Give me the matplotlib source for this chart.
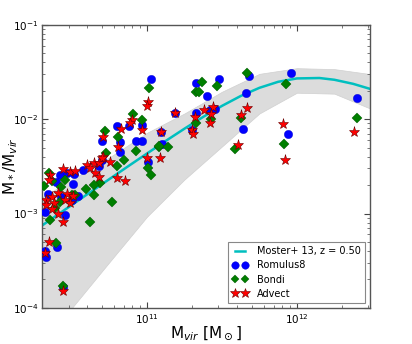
import numpy as np
import matplotlib
matplotlib.use("Agg")
import matplotlib.pyplot as plt
from matplotlib.ticker import LogLocator, NullFormatter

# ---------------- data (log10 values) ----------------
# Moster+13 relation at z = 0.5
curve_logm = [10.3, 10.5, 10.625, 10.75, 10.875, 11.0, 11.125, 11.25, 11.375,
              11.5, 11.625, 11.75, 11.875, 12.0, 12.15, 12.25, 12.375, 12.5]
curve_ratio = [7.45e-4, 1.236e-3, 1.693e-3, 2.318e-3, 3.169e-3, 4.32e-3,
               5.872e-3, 7.92e-3, 0.01056, 0.01381, 0.01758, 0.02147,
               0.02487, 0.02700, 0.02728, 0.02613, 0.02366, 0.02064]

band_logm = [10.3, 10.5, 10.75, 11.0, 11.25, 11.5, 11.75, 12.0, 12.25, 12.5]
band_low_log = [-4.38, -4.0, -3.515, -3.035, -2.64, -2.29, -1.94, -1.72, -1.73, -1.895]
band_high_log = [-2.83, -2.64, -2.405, -2.145, -1.94, -1.71, -1.52, -1.46, -1.47, -1.525]

# Romulus8 (blue circles): log10 Mvir, log10 M*/Mvir
rom_logm = [11.03, 10.88, 10.97, 10.80, 10.70, 10.82, 10.93, 10.97, 10.82, 11.01,
            11.33, 11.48, 11.68, 11.40, 11.66, 11.19, 11.33, 11.42, 11.455, 11.30,
            11.64, 11.095, 11.10, 11.96, 12.40, 11.94, 10.68, 10.42, 10.47, 10.515,
            10.51, 10.34, 10.43, 10.50, 10.32, 10.455, 10.40, 10.33, 10.44, 10.70,
            10.395, 10.54, 10.575, 10.32]
rom_logr = [-1.57, -2.07, -2.06, -2.07, -2.23, -2.24, -2.23, -2.23, -2.35, -2.45,
            -1.62, -1.57, -1.54, -1.76, -1.72, -1.93, -1.94, -1.90, -1.89, -2.11,
            -2.10, -2.14, -2.26, -1.51, -1.78, -2.16, -2.50, -2.59, -2.57, -2.58,
            -2.69, -2.79, -2.82, -2.86, -2.98, -3.02, -3.35, -3.46, -3.78, -2.43,
            -2.67, -2.81, -2.54, -3.40]

# Bondi (green diamonds)
bondi_logm = [11.015, 10.905, 10.97, 10.72, 10.81, 10.85, 10.93, 11.08, 10.73, 10.80,
              11.37, 11.33, 11.35, 11.47, 11.67, 11.43, 11.33, 11.63, 11.08, 11.14,
              11.59, 11.93, 12.40, 11.915, 11.03, 11.01, 10.69, 10.645, 10.595, 10.645,
              10.77, 10.62, 10.345, 10.455, 10.37, 10.43, 10.42, 10.39, 10.355, 10.395,
              10.44, 10.52, 10.50, 10.315]
bondi_logr = [-1.67, -1.95, -2.01, -2.13, -2.19, -2.43, -2.34, -2.29, -2.36, -2.50,
              -1.61, -1.71, -1.71, -1.65, -1.515, -2.00, -2.04, -1.99, -2.28, -2.30,
              -2.32, -1.63, -1.985, -2.26, -2.59, -2.52, -2.68, -2.70, -2.74, -2.80,
              -2.875, -3.09, -2.57, -2.64, -2.66, -2.72, -2.875, -2.945, -3.07, -3.31,
              -3.77, -2.80, -2.80, -2.71]

# Advect (red stars)
adv_logm = [11.01, 11.00, 10.90, 10.89, 10.97, 10.83, 10.71, 10.81, 11.00, 10.71,
            11.095, 11.19, 11.32, 11.38, 11.44, 11.43, 11.42, 11.30, 11.31, 11.67,
            11.63, 11.61, 11.09, 11.91, 11.92, 12.38, 10.60, 10.645, 10.68, 10.70,
            10.755, 10.62, 10.655, 10.68, 10.80, 10.855, 10.355, 10.44, 10.485, 10.52,
            10.41, 10.47, 10.51, 10.33, 10.37, 10.38, 10.455, 10.49, 10.33, 10.37,
            10.41, 10.44, 10.345, 10.32, 10.44, 10.345]
adv_logr = [-1.82, -1.86, -2.01, -2.04, -2.11, -2.10, -2.19, -2.30, -2.415, -2.40,
            -2.14, -1.93, -1.975, -1.90, -1.875, -1.95, -2.04, -2.115, -2.16, -1.88,
            -1.96, -2.27, -2.41, -2.055, -2.43, -2.14, -2.49, -2.47, -2.47, -2.415,
            -2.45, -2.52, -2.57, -2.61, -2.62, -2.66, -2.59, -2.53, -2.56, -2.55,
            -2.78, -2.79, -2.815, -2.86, -2.83, -2.885, -2.86, -2.885, -2.91, -2.955,
            -3.00, -3.09, -3.30, -3.42, -3.82, -2.645]

legend_labels = ["Moster+ 13, z = 0.50", "Romulus8", "Bondi", "Advect"]

# ---------------- plot ----------------
plt.rcParams['font.family'] = ['DejaVu Sans']
plt.rcParams['mathtext.fontset'] = 'dejavusans'

fig = plt.figure(figsize=(4.12, 3.44), dpi=100)
ax = fig.add_axes([0.103, 0.105, 0.795, 0.823])

bx = 10 ** np.array(band_logm)
ax.fill_between(bx, 10 ** np.array(band_low_log), 10 ** np.array(band_high_log),
                facecolor='#dcdcdc', edgecolor='#d0d0d0', linewidth=0.5, zorder=1)
ax.plot(10 ** np.array(curve_logm), curve_ratio, color='#00bfbf', lw=1.8,
        zorder=2, label=legend_labels[0])

ax.plot(10 ** np.array(rom_logm), 10 ** np.array(rom_logr), 'o', ls='none',
        color='#0000ff', ms=6, mec='#0000cc', mew=0.3, zorder=3, label=legend_labels[1])
ax.plot(10 ** np.array(bondi_logm), 10 ** np.array(bondi_logr), 'D', ls='none',
        color='#007f00', ms=4.6, mec='#005500', mew=0.3, zorder=4, label=legend_labels[2])
ax.plot(10 ** np.array(adv_logm), 10 ** np.array(adv_logr), '*', ls='none',
        color='#ff0000', ms=8, mec='#660000', mew=0.4, zorder=5, label=legend_labels[3])

ax.set_xscale('log')
ax.set_yscale('log')
ax.set_xlim(2.01e10, 3.07e12)
ax.set_ylim(1e-4, 1e-1)

ax.tick_params(which='both', direction='in', top=True, right=True, labelsize=7.5,
               color='#444444')
ax.tick_params(which='major', length=4, width=0.8, pad=3)
ax.tick_params(which='minor', length=2, width=0.5)
ax.xaxis.set_minor_locator(LogLocator(base=10, subs=np.arange(2, 10), numticks=20))
ax.yaxis.set_minor_locator(LogLocator(base=10, subs=np.arange(2, 10), numticks=20))
ax.xaxis.set_minor_formatter(NullFormatter())
ax.yaxis.set_minor_formatter(NullFormatter())
for s in ax.spines.values():
    s.set_color('#555555')
    s.set_linewidth(1.0)

ax.set_xlabel(r'M$_{vir}$ [M$_\odot$]', fontsize=11, labelpad=-1)
ax.set_ylabel(r'M$_*$/M$_{vir}$', fontsize=11)
ax.yaxis.set_label_coords(-0.068, 0.5)

leg = ax.legend(loc='lower right', fontsize=7, numpoints=2, fancybox=False,
                framealpha=1, edgecolor='#888888', borderpad=0.45,
                handlelength=1.6, handletextpad=0.9, labelspacing=0.42,
                borderaxespad=0.5, markerscale=0.9)
leg.get_frame().set_linewidth(0.8)

fig.savefig('out.png', dpi=100)
